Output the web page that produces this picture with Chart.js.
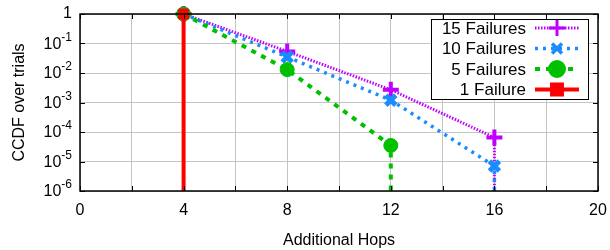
<!DOCTYPE html>
<html>
<head>
<meta charset="utf-8">
<script src="https://cdn.jsdelivr.net/npm/chart.js@4/dist/chart.umd.min.js"></script>
<style>
  html, body { margin: 0; padding: 0; background: #fff; }
  #wrap { width: 610px; height: 250px; }
</style>
</head>
<body>
<div id="wrap"><canvas id="chart" width="610" height="250"></canvas></div>
<script>
// values
const seriesNames = ["15 Failures", "10 Failures", "5 Failures", "1 Failure"];
const hops15 = [4, 8, 12, 16];
const ccdf15 = [1, 5.4e-2, 2.7e-3, 6.5e-5];
const hops10 = [4, 8, 12, 16];
const ccdf10 = [1, 3.5e-2, 1.2e-3, 7e-6];
const hops5 = [4, 8, 12];
const ccdf5 = [1, 1.3e-2, 3.5e-5];
const hops1 = [4];
const ccdf1 = [1];
const yTickExps = [0, -1, -2, -3, -4, -5, -6];
const xTickLabels = [0, 4, 8, 12, 16, 20];
const FLOOR = 1e-9; // curve falls to zero after its last hop

const FONT = "'Liberation Sans', Arial, sans-serif";

function toPoints(xs, ys) {
    const pts = xs.map((x, i) => ({ x: x, y: ys[i] }));
    pts.push({ x: xs[xs.length - 1], y: FLOOR });
    return pts;
}

function series(label, xs, ys, color, style) {
    return Object.assign({
        label: label,
        data: toPoints(xs, ys),
        borderColor: color,
        backgroundColor: color,
        pointBorderColor: color,
        pointBackgroundColor: color,
        pointRadius: ctx => (ctx.raw && ctx.raw.y < 1e-6 ? 0 : style.r),
        pointHoverRadius: 0,
        tension: 0,
        clip: { left: 10, right: 10, top: 12, bottom: 0 },
    }, style);
}

const datasets = [
    series(seriesNames[3], hops1, ccdf1, "#ff0000", { r: 7, pointStyle: "rect", borderWidth: 4, pointBorderWidth: 1, borderDash: [] }),
    series(seriesNames[2], hops5, ccdf5, "#00c000", { r: 7, pointStyle: "circle", borderWidth: 4, pointBorderWidth: 1, borderDash: [5, 6] }),
    series(seriesNames[1], hops10, ccdf10, "#1a8cff", { r: 7, pointStyle: "crossRot", borderWidth: 3.5, pointBorderWidth: 5, borderDash: [3, 5] }),
    series(seriesNames[0], hops15, ccdf15, "#c000ff", { r: 8, pointStyle: "cross", borderWidth: 3, pointBorderWidth: 4, borderDash: [1.5, 1.5] }),
];

// y labels as 10 with a raised exponent, inward ticks, frame and the boxed legend
const decorPlugin = {
    id: "decor",
    afterDraw(chart) {
        const ctx = chart.ctx;
        const a = chart.chartArea;
        const xs = chart.scales.x, ys = chart.scales.y;
        ctx.save();

        // inward ticks
        ctx.strokeStyle = "#000";
        ctx.lineWidth = 1;
        ctx.beginPath();
        for (let v = 0; v <= 20; v += 2) {
            const px = Math.round(xs.getPixelForValue(v)) + 0.5;
            ctx.moveTo(px, a.bottom); ctx.lineTo(px, a.bottom - 5);
            ctx.moveTo(px, a.top); ctx.lineTo(px, a.top + 5);
        }
        yTickExps.forEach(e => {
            const py = Math.round(ys.getPixelForValue(Math.pow(10, e))) + 0.5;
            ctx.moveTo(a.left, py); ctx.lineTo(a.left + 5, py);
            ctx.moveTo(a.right, py); ctx.lineTo(a.right - 5, py);
        });
        ctx.stroke();

        // frame
        ctx.lineWidth = 1.5;
        ctx.strokeRect(a.left, a.top, a.right - a.left, a.bottom - a.top);

        // y tick labels
        ctx.fillStyle = "#000";
        ctx.textBaseline = "middle";
        ctx.textAlign = "right";
        yTickExps.forEach(e => {
            const py = ys.getPixelForValue(Math.pow(10, e));
            const right = a.left - 10;
            if (e === 0) {
                ctx.font = "16px " + FONT;
                ctx.fillText("1", right + 2, py);
            } else {
                ctx.font = "12px " + FONT;
                const sup = String(e);
                const w = ctx.measureText(sup).width;
                ctx.fillText(sup, right + 2, py - 6);
                ctx.font = "16px " + FONT;
                ctx.fillText("10", right + 2 - w, py + 1);
            }
        });

        // legend
        const box = { x: 431, y: 19, w: 157, h: 80 };
        ctx.fillStyle = "#fff";
        ctx.fillRect(box.x, box.y, box.w, box.h);
        ctx.strokeStyle = "#000";
        ctx.lineWidth = 1;
        ctx.strokeRect(box.x + 0.5, box.y + 0.5, box.w, box.h);
        const order = [3, 2, 1, 0];
        order.forEach((di, row) => {
            const ds = chart.data.datasets[di];
            const cy = 28 + row * 20.5;
            ctx.font = "17px " + FONT;
            ctx.fillStyle = "#000";
            ctx.textAlign = "right";
            ctx.textBaseline = "middle";
            ctx.fillText(ds.label, 526, cy + 1);
            ctx.strokeStyle = ds.borderColor;
            ctx.lineWidth = ds.borderWidth;
            ctx.setLineDash(ds.borderDash);
            ctx.beginPath();
            ctx.moveTo(535, cy); ctx.lineTo(579, cy);
            ctx.stroke();
            ctx.setLineDash([]);
            ctx.fillStyle = ds.borderColor;
            ctx.strokeStyle = ds.borderColor;
            Chart.helpers.drawPoint(ctx, {
                pointStyle: ds.pointStyle,
                radius: ds.r,
                borderWidth: ds.pointBorderWidth,
                rotation: 0,
            }, 557, cy);
        });
        ctx.restore();
    }
};

new Chart(document.getElementById("chart"), {
    type: "line",
    data: { datasets: datasets },
    options: {
        responsive: false,
        animation: false,
        events: [],
        layout: { padding: { top: 14, right: 0, left: 0, bottom: 0 } },
        plugins: { legend: { display: false }, tooltip: { enabled: false } },
        scales: {
            x: {
                type: "linear",
                min: 0,
                max: 20,
                afterFit: s => { s.height = 59; s.paddingRight = 12; s.paddingLeft = 0; },
                afterBuildTicks: s => {
                    s.ticks = [];
                    for (let v = 0; v <= 20; v += 2) s.ticks.push({ value: v });
                },
                ticks: {
                    autoSkip: false,
                    maxRotation: 0,
                    padding: 10,
                    color: "#000",
                    font: { family: FONT, size: 16 },
                    callback: v => (xTickLabels.includes(v) ? String(v) : ""),
                },
                grid: { color: "#c4c4c4", lineWidth: 1, drawTicks: false },
                border: { display: false },
                title: {
                    display: true,
                    text: "Additional Hops",
                    color: "#000",
                    font: { family: FONT, size: 16 },
                    padding: { top: 4, bottom: 0 },
                },
            },
            y: {
                type: "logarithmic",
                min: 1e-6,
                max: 1,
                afterFit: s => { s.width = 80; },
                afterBuildTicks: s => {
                    s.ticks = yTickExps.map(e => ({ value: Math.pow(10, e) }));
                },
                ticks: { callback: () => "", padding: 0 },
                grid: { color: "#c4c4c4", lineWidth: 1, drawTicks: false },
                border: { display: false },
                title: {
                    display: true,
                    text: "CCDF over trials",
                    color: "#000",
                    font: { family: FONT, size: 16 },
                    padding: { top: 10, bottom: 0 },
                },
            },
        },
    },
    plugins: [decorPlugin],
});
</script>
</body>
</html>
